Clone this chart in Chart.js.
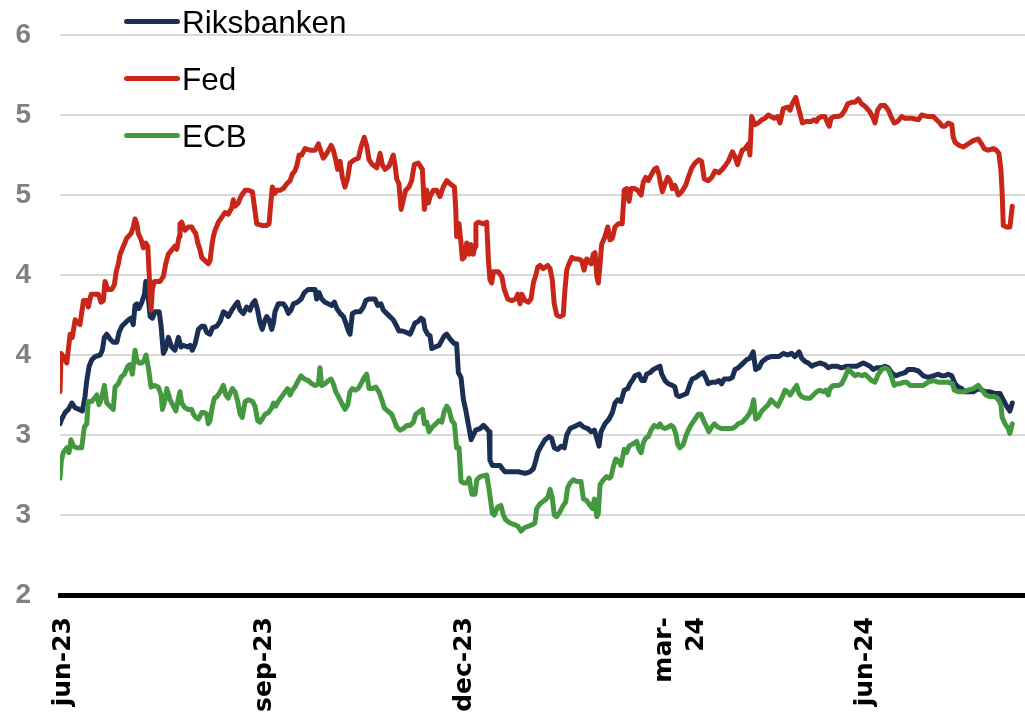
<!DOCTYPE html>
<html>
<head>
<meta charset="utf-8">
<script src="https://cdn.jsdelivr.net/npm/chart.js@4.4.1/dist/chart.umd.min.js"></script>
<style>
html,body{margin:0;padding:0;background:#fff;}
#wrap{position:relative;width:1025px;height:713px;overflow:hidden;}
#legend{position:absolute;left:0;top:0;font-family:"Liberation Sans",Arial,sans-serif;font-size:31.5px;color:#000;}
.item{position:absolute;left:124px;height:31px;width:300px;}
.swatch{position:absolute;left:0;top:12.8px;width:56px;height:5px;border-radius:3px;}
.label{position:absolute;left:58px;top:0;line-height:31px;white-space:nowrap;}
</style>
</head>
<body>
<div id="wrap">
<canvas id="c" width="1025" height="713"></canvas>
<div id="legend"></div>
</div>
<script>
// x values are days since 1 June 2023
const xTickDays = [0, 92, 183, 274, 366];
const xTickLabels = ['jun-23', 'sep-23', 'dec-23', ['mar-', '24'], 'jun-24'];
const yTickLabels = ['2', '3', '3', '4', '4', '5', '5', '6'];
const seriesNames = ['Riksbanken', 'Fed', 'ECB'];
const seriesColors = ['#1b2f55', '#c82619', '#449940'];

const riksbanken = [[-1.4,3.57],[-0.6,3.60],[0.9,3.64],[2.4,3.66],[4.0,3.70],[5.5,3.67],[7.3,3.66],[8.8,3.65],[10.0,3.74],[10.8,3.84],[11.9,3.93],[13.1,3.97],[14.6,3.99],[16.9,4.00],[17.9,4.03],[18.8,4.11],[19.9,4.13],[21.4,4.10],[22.9,4.08],[24.5,4.08],[25.5,4.14],[26.8,4.18],[28.3,4.20],[29.8,4.22],[31.0,4.23],[32.0,4.19],[32.8,4.31],[33.6,4.32],[34.6,4.29],[35.9,4.33],[37.1,4.38],[37.7,4.46],[38.6,4.39],[39.7,4.24],[40.7,4.23],[41.9,4.27],[43.8,4.27],[44.7,4.18],[45.7,4.01],[46.8,4.04],[48.0,4.11],[49.5,4.05],[51.0,4.03],[52.6,4.11],[53.8,4.05],[54.8,4.06],[56.8,4.05],[57.9,4.06],[58.9,4.03],[60.2,4.07],[61.7,4.16],[63.2,4.18],[64.4,4.18],[65.5,4.14],[67.0,4.13],[68.1,4.17],[70.1,4.18],[71.6,4.21],[73.1,4.27],[74.2,4.26],[75.3,4.24],[76.9,4.28],[78.4,4.31],[79.6,4.33],[80.7,4.28],[82.2,4.26],[83.7,4.30],[85.2,4.28],[86.3,4.32],[87.5,4.34],[88.7,4.28],[89.8,4.20],[90.8,4.16],[92.1,4.22],[92.8,4.24],[93.9,4.22],[95.1,4.16],[95.9,4.20],[96.6,4.27],[98.1,4.32],[100.4,4.32],[101.5,4.30],[102.7,4.26],[103.9,4.28],[105.0,4.32],[106.9,4.33],[108.5,4.35],[110.0,4.39],[111.8,4.41],[113.6,4.41],[114.9,4.41],[115.6,4.35],[116.7,4.39],[117.9,4.35],[119.4,4.33],[120.9,4.32],[122.5,4.31],[123.7,4.33],[124.8,4.29],[126.3,4.26],[127.8,4.24],[128.9,4.20],[129.8,4.16],[130.8,4.13],[131.9,4.26],[133.4,4.27],[135.4,4.27],[136.9,4.30],[138.0,4.34],[139.5,4.35],[142.2,4.35],[143.4,4.31],[144.9,4.32],[146.0,4.28],[147.5,4.26],[149.0,4.24],[150.5,4.22],[152.1,4.18],[153.1,4.15],[154.7,4.15],[156.7,4.14],[158.2,4.13],[159.2,4.16],[160.4,4.20],[161.9,4.21],[163.2,4.23],[164.2,4.22],[165.0,4.16],[166.2,4.13],[167.3,4.12],[168.1,4.04],[169.6,4.05],[171.4,4.06],[172.6,4.09],[173.8,4.12],[174.9,4.13],[176.4,4.10],[178.4,4.07],[179.4,4.07],[180.2,3.89],[181.4,3.86],[182.5,3.72],[183.5,3.66],[184.7,3.57],[186.0,3.47],[187.0,3.50],[188.1,3.53],[190.1,3.54],[191.6,3.56],[193.1,3.54],[194.2,3.52],[194.6,3.34],[195.7,3.31],[199.2,3.31],[200.2,3.29],[201.5,3.27],[204.5,3.27],[207.5,3.27],[210.6,3.26],[212.9,3.27],[214.4,3.29],[215.5,3.34],[216.4,3.39],[217.9,3.43],[219.7,3.47],[221.5,3.49],[222.7,3.48],[223.9,3.42],[225.5,3.41],[227.0,3.43],[228.5,3.42],[229.6,3.50],[231.1,3.54],[232.6,3.55],[234.1,3.56],[235.6,3.57],[237.2,3.55],[239.2,3.54],[240.7,3.52],[242.2,3.53],[243.3,3.48],[244.3,3.43],[245.2,3.52],[247.0,3.57],[248.9,3.60],[250.4,3.64],[251.6,3.70],[252.8,3.72],[254.3,3.71],[255.8,3.78],[257.4,3.79],[258.4,3.82],[259.5,3.84],[260.7,3.87],[262.5,3.88],[263.8,3.84],[265.0,3.84],[266.0,3.88],[267.6,3.89],[269.1,3.91],[270.6,3.92],[272.1,3.93],[272.9,3.88],[274.4,3.84],[275.9,3.82],[277.7,3.81],[278.9,3.80],[279.7,3.75],[280.8,3.74],[282.7,3.75],[284.3,3.76],[285.8,3.82],[286.8,3.85],[288.4,3.86],[290.3,3.88],[291.8,3.89],[292.9,3.86],[294.1,3.82],[295.7,3.83],[297.5,3.83],[299.0,3.84],[300.2,3.82],[301.4,3.85],[303.6,3.85],[305.1,3.86],[306.3,3.91],[307.8,3.92],[309.3,3.94],[311.6,3.97],[313.1,3.98],[314.6,4.02],[315.7,3.91],[317.2,3.92],[318.7,3.96],[320.7,3.98],[322.7,3.99],[324.5,3.99],[326.3,3.99],[328.3,4.01],[330.3,4.00],[332.1,4.01],[333.6,3.99],[335.5,4.02],[336.7,3.98],[338.2,3.96],[339.7,3.95],[341.3,3.93],[342.8,3.94],[345.0,3.95],[347.3,3.94],[348.8,3.92],[350.4,3.93],[352.6,3.93],[354.9,3.92],[357.2,3.93],[359.5,3.93],[361.8,3.93],[363.3,3.94],[364.8,3.95],[366.3,3.94],[367.8,3.93],[369.3,3.91],[370.9,3.92],[372.8,3.92],[374.6,3.93],[376.2,3.92],[377.7,3.89],[379.5,3.87],[381.5,3.88],[383.8,3.89],[385.3,3.91],[387.6,3.91],[389.9,3.90],[392.1,3.87],[394.4,3.86],[396.7,3.87],[399.0,3.88],[400.5,3.87],[402.0,3.87],[403.5,3.88],[405.1,3.87],[406.6,3.82],[408.1,3.80],[409.6,3.79],[411.1,3.77],[414.9,3.77],[417.2,3.79],[419.0,3.78],[420.6,3.77],[422.5,3.77],[424.8,3.76],[427.1,3.76],[428.6,3.72],[430.1,3.68],[431.6,3.65],[432.7,3.70]];

const fed = [[-1.4,3.77],[-0.9,4.01],[0.1,3.99],[1.7,3.95],[3.2,4.13],[4.2,4.11],[5.5,4.22],[6.7,4.20],[7.7,4.19],[9.3,4.34],[10.8,4.34],[11.5,4.30],[12.8,4.38],[14.6,4.38],[16.1,4.38],[17.3,4.33],[18.4,4.34],[19.1,4.46],[20.4,4.41],[22.2,4.41],[23.4,4.44],[24.2,4.52],[25.2,4.57],[26.0,4.63],[27.5,4.68],[29.0,4.73],[31.0,4.76],[32.0,4.80],[32.8,4.85],[33.6,4.82],[34.3,4.76],[35.6,4.72],[36.6,4.67],[37.7,4.70],[38.6,4.68],[39.3,4.49],[40.1,4.28],[40.7,4.41],[41.6,4.46],[44.2,4.46],[45.7,4.49],[46.8,4.57],[48.0,4.63],[49.8,4.66],[51.0,4.68],[51.8,4.66],[52.9,4.74],[53.3,4.82],[54.1,4.83],[54.8,4.80],[55.6,4.78],[57.1,4.80],[58.7,4.80],[59.4,4.78],[60.5,4.76],[61.4,4.70],[62.4,4.66],[63.2,4.61],[64.7,4.59],[66.2,4.57],[67.0,4.59],[67.8,4.68],[68.5,4.74],[69.3,4.78],[70.8,4.83],[72.3,4.86],[73.8,4.89],[75.3,4.88],[76.9,4.92],[77.6,4.97],[78.4,4.93],[79.9,4.95],[80.7,4.98],[81.5,5.00],[83.0,5.03],[84.5,5.03],[86.3,5.02],[87.2,4.93],[88.3,4.82],[90.6,4.81],[92.8,4.81],[93.9,4.82],[94.7,4.95],[95.4,5.05],[96.6,5.01],[97.4,5.03],[98.9,5.03],[100.4,5.04],[102.0,5.07],[103.5,5.09],[104.5,5.13],[105.7,5.15],[106.5,5.18],[107.6,5.25],[108.8,5.25],[110.3,5.29],[112.6,5.28],[114.9,5.28],[116.4,5.32],[117.1,5.29],[118.6,5.23],[120.2,5.26],[122.2,5.31],[123.2,5.28],[124.3,5.22],[125.2,5.16],[126.3,5.21],[127.3,5.11],[128.5,5.05],[129.8,5.11],[130.8,5.20],[132.8,5.22],[134.6,5.23],[135.8,5.30],[137.3,5.36],[138.4,5.31],[139.5,5.22],[141.0,5.19],[143.0,5.17],[144.5,5.26],[145.5,5.19],[146.8,5.16],[148.6,5.18],[150.5,5.25],[151.3,5.19],[152.1,5.10],[153.1,5.07],[154.1,4.91],[155.1,4.97],[156.2,5.03],[157.7,5.05],[158.9,5.09],[160.1,5.19],[161.9,5.20],[163.8,5.16],[164.7,4.91],[165.8,5.03],[166.5,4.95],[167.3,4.99],[168.8,5.03],[170.3,5.03],[171.8,4.99],[173.3,5.05],[174.9,5.09],[176.4,5.07],[178.4,5.05],[179.0,4.91],[179.4,4.74],[180.5,4.82],[181.4,4.70],[182.0,4.60],[182.9,4.61],[184.0,4.70],[185.1,4.63],[186.0,4.69],[187.0,4.63],[187.8,4.68],[188.2,4.82],[189.3,4.83],[191.6,4.82],[193.1,4.83],[193.9,4.59],[194.6,4.47],[195.4,4.45],[196.1,4.52],[198.4,4.52],[200.0,4.49],[201.1,4.41],[202.7,4.35],[204.5,4.34],[206.3,4.35],[207.3,4.38],[208.3,4.32],[209.1,4.38],[210.6,4.34],[212.1,4.33],[213.3,4.35],[214.4,4.45],[215.5,4.50],[216.4,4.55],[217.4,4.56],[218.9,4.54],[220.9,4.56],[222.0,4.54],[223.0,4.47],[223.9,4.32],[225.0,4.25],[226.5,4.24],[228.0,4.25],[228.8,4.41],[229.6,4.53],[230.3,4.56],[231.9,4.61],[233.4,4.60],[234.9,4.60],[236.4,4.59],[237.5,4.53],[238.7,4.60],[240.7,4.57],[241.7,4.63],[242.5,4.64],[243.3,4.49],[244.0,4.45],[244.8,4.57],[245.5,4.69],[247.0,4.74],[248.3,4.80],[249.3,4.72],[250.4,4.73],[251.6,4.80],[253.1,4.82],[254.9,4.82],[255.8,5.03],[256.9,5.04],[258.0,4.96],[258.9,5.04],[260.4,5.04],[261.9,5.03],[263.5,5.00],[264.5,5.08],[265.6,5.11],[266.8,5.09],[268.3,5.13],[269.5,5.16],[270.6,5.17],[271.6,5.13],[272.1,5.09],[273.2,5.02],[274.4,5.07],[275.6,5.11],[276.7,5.09],[277.7,5.04],[278.9,5.06],[280.5,5.00],[282.0,5.02],[283.8,5.06],[285.0,5.11],[286.6,5.17],[288.1,5.20],[289.9,5.22],[291.1,5.21],[292.3,5.10],[294.1,5.09],[295.7,5.11],[297.2,5.15],[299.0,5.14],[300.5,5.16],[301.7,5.18],[303.2,5.21],[305.1,5.27],[306.3,5.24],[307.5,5.19],[308.6,5.24],[309.6,5.28],[310.9,5.29],[312.4,5.32],[313.1,5.25],[313.9,5.49],[315.4,5.44],[316.9,5.45],[318.5,5.47],[320.0,5.48],[321.5,5.50],[322.7,5.49],[324.2,5.48],[325.8,5.49],[326.8,5.45],[328.3,5.54],[330.3,5.55],[331.4,5.53],[332.4,5.57],[334.0,5.61],[334.9,5.56],[335.9,5.51],[337.0,5.45],[339.0,5.46],[340.9,5.46],[342.4,5.47],[343.5,5.46],[344.3,5.48],[345.8,5.49],[347.3,5.49],[348.5,5.45],[349.3,5.43],[350.1,5.48],[351.6,5.49],[353.4,5.49],[354.9,5.50],[356.4,5.53],[357.7,5.57],[359.5,5.58],[361.0,5.58],[362.5,5.60],[364.0,5.57],[365.9,5.55],[367.8,5.52],[369.3,5.48],[370.1,5.45],[371.3,5.53],[372.8,5.56],[374.6,5.56],[376.2,5.53],[377.4,5.49],[378.9,5.45],[380.4,5.46],[382.3,5.49],[383.8,5.48],[386.8,5.48],[389.9,5.47],[391.4,5.50],[394.4,5.49],[396.7,5.49],[398.2,5.47],[399.7,5.45],[400.8,5.43],[402.0,5.43],[403.5,5.45],[405.1,5.44],[405.8,5.36],[406.6,5.33],[408.4,5.31],[410.4,5.30],[412.6,5.32],[414.9,5.34],[417.2,5.35],[418.7,5.32],[419.9,5.29],[421.7,5.28],[424.0,5.29],[425.5,5.28],[426.6,5.26],[427.5,5.16],[428.1,5.01],[428.6,4.81],[430.1,4.80],[431.6,4.80],[432.7,4.93]];

const ecb = [[-1.4,3.23],[-0.8,3.34],[0.1,3.39],[1.7,3.42],[2.7,3.39],[3.6,3.47],[4.7,3.43],[6.2,3.42],[8.5,3.42],[9.7,3.55],[10.8,3.57],[11.5,3.71],[13.1,3.71],[14.3,3.73],[15.4,3.75],[16.4,3.69],[17.6,3.73],[18.8,3.81],[19.9,3.70],[21.4,3.68],[22.9,3.66],[23.7,3.80],[25.2,3.82],[26.4,3.86],[27.9,3.88],[29.5,3.93],[30.5,3.94],[31.6,3.88],[32.8,4.03],[33.6,3.97],[34.6,3.95],[35.9,3.95],[37.1,3.97],[37.8,4.00],[38.9,3.92],[40.1,3.80],[41.6,3.81],[43.4,3.80],[44.7,3.75],[45.3,3.66],[46.5,3.72],[47.3,3.79],[48.8,3.72],[50.3,3.68],[51.4,3.65],[52.6,3.73],[53.3,3.77],[54.1,3.70],[55.6,3.67],[57.1,3.66],[58.7,3.66],[59.4,3.63],[60.5,3.61],[61.7,3.60],[63.2,3.64],[64.4,3.64],[65.5,3.63],[66.2,3.57],[67.0,3.59],[68.1,3.68],[69.0,3.73],[70.1,3.74],[71.6,3.77],[73.1,3.81],[74.2,3.75],[75.3,3.73],[76.1,3.76],[77.2,3.79],[78.4,3.77],[79.6,3.71],[80.7,3.63],[81.7,3.61],[83.0,3.71],[84.5,3.72],[86.3,3.71],[87.5,3.68],[88.7,3.59],[89.8,3.58],[90.8,3.60],[92.1,3.63],[93.6,3.64],[95.1,3.67],[95.9,3.70],[96.9,3.68],[98.1,3.71],[99.7,3.74],[101.2,3.77],[102.4,3.79],[103.5,3.75],[104.5,3.78],[105.7,3.80],[107.2,3.84],[108.5,3.87],[110.0,3.85],[111.8,3.84],[113.4,3.82],[114.9,3.81],[116.4,3.82],[117.1,3.92],[117.9,3.81],[119.4,3.82],[120.9,3.84],[122.2,3.85],[123.2,3.82],[124.3,3.77],[125.5,3.74],[127.0,3.70],[128.5,3.66],[129.8,3.69],[130.8,3.77],[131.9,3.79],[133.1,3.78],[134.6,3.79],[135.8,3.82],[137.3,3.86],[138.4,3.88],[139.5,3.79],[141.0,3.79],[142.5,3.80],[144.0,3.77],[145.3,3.72],[146.4,3.67],[148.0,3.65],[149.8,3.63],[151.0,3.59],[152.1,3.55],[153.6,3.53],[155.1,3.54],[156.7,3.56],[158.2,3.56],[159.7,3.58],[160.8,3.63],[161.9,3.64],[163.8,3.66],[164.7,3.57],[165.8,3.58],[166.8,3.52],[168.3,3.55],[169.9,3.57],[171.4,3.59],[172.6,3.58],[173.8,3.65],[174.9,3.68],[175.9,3.66],[177.2,3.59],[178.4,3.57],[179.4,3.42],[180.5,3.42],[181.4,3.21],[182.5,3.20],[184.0,3.20],[185.1,3.23],[186.3,3.13],[187.8,3.13],[188.6,3.22],[190.1,3.24],[193.1,3.25],[194.2,3.16],[195.7,3.01],[196.6,3.00],[198.1,3.05],[199.6,3.06],[200.7,3.00],[201.8,2.97],[203.7,2.95],[205.7,2.94],[207.3,2.93],[208.8,2.90],[210.3,2.92],[212.1,2.93],[213.9,2.94],[215.1,2.95],[215.9,3.04],[217.4,3.07],[219.4,3.09],[220.9,3.11],[222.0,3.16],[223.0,3.11],[223.9,3.00],[225.0,2.99],[226.5,3.02],[228.0,3.06],[229.1,3.08],[230.0,3.17],[231.1,3.20],[232.6,3.22],[234.1,3.21],[236.1,3.21],[237.2,3.10],[238.7,3.09],[240.2,3.06],[241.3,3.04],[242.2,3.10],[243.3,2.99],[244.0,3.01],[244.8,3.19],[246.3,3.22],[247.8,3.24],[248.9,3.23],[249.8,3.24],[250.8,3.30],[251.9,3.35],[253.1,3.34],[254.3,3.31],[255.8,3.41],[256.9,3.39],[258.0,3.43],[259.2,3.44],[260.4,3.45],[261.5,3.46],[262.5,3.41],[263.5,3.39],[264.5,3.45],[265.6,3.48],[266.8,3.49],[268.0,3.53],[269.5,3.56],[271.1,3.55],[272.1,3.57],[272.9,3.55],[274.4,3.54],[275.9,3.55],[277.1,3.56],[278.2,3.55],[279.3,3.51],[280.2,3.44],[281.2,3.42],[282.7,3.44],[283.8,3.49],[285.0,3.53],[286.6,3.57],[288.1,3.60],[289.6,3.63],[290.8,3.63],[292.3,3.58],[293.4,3.55],[294.4,3.52],[295.7,3.55],[296.9,3.57],[298.4,3.55],[300.2,3.54],[304.8,3.54],[306.3,3.55],[307.8,3.57],[309.6,3.58],[311.6,3.61],[313.1,3.64],[314.2,3.68],[314.8,3.72],[315.7,3.60],[316.9,3.61],[318.5,3.65],[320.0,3.67],[321.5,3.69],[322.7,3.72],[324.2,3.70],[325.8,3.68],[327.6,3.73],[329.1,3.78],[330.3,3.77],[331.4,3.75],[332.9,3.78],[334.4,3.81],[335.5,3.76],[336.7,3.74],[338.5,3.73],[340.5,3.73],[342.0,3.75],[343.5,3.77],[345.0,3.78],[346.6,3.77],[347.6,3.78],[348.8,3.75],[349.6,3.79],[351.1,3.81],[353.4,3.81],[354.9,3.82],[356.4,3.86],[357.9,3.91],[359.5,3.89],[361.0,3.87],[362.5,3.88],[364.3,3.87],[365.5,3.88],[367.1,3.86],[368.6,3.84],[370.1,3.83],[371.6,3.88],[373.2,3.91],[374.6,3.92],[376.2,3.91],[377.7,3.86],[378.9,3.81],[380.0,3.82],[381.5,3.82],[383.0,3.83],[384.6,3.83],[386.1,3.81],[388.4,3.81],[390.6,3.81],[392.1,3.81],[394.4,3.83],[396.7,3.84],[399.0,3.83],[401.2,3.83],[403.5,3.83],[405.4,3.82],[406.3,3.78],[408.1,3.77],[410.4,3.77],[412.6,3.78],[414.9,3.79],[417.2,3.81],[419.0,3.78],[420.6,3.75],[422.5,3.74],[424.8,3.74],[426.4,3.72],[427.5,3.69],[428.1,3.61],[429.4,3.57],[430.9,3.54],[431.6,3.51],[432.7,3.57]];

const seriesData = [riksbanken, fed, ecb];
const toPoints = arr => arr.map(p => ({x: p[0], y: p[1]}));

const datasets = seriesNames.map((name, i) => ({
  label: name,
  data: toPoints(seriesData[i]),
  borderColor: seriesColors[i],
  backgroundColor: seriesColors[i],
  borderWidth: 5,
  pointRadius: 0,
  tension: 0,
  fill: false,
  borderJoinStyle: 'round',
  borderCapStyle: 'round',
  order: seriesNames.length - i
}));

Chart.defaults.font.family = '"Liberation Sans", Arial, sans-serif';

new Chart(document.getElementById('c'), {
  type: 'line',
  data: { datasets },
  options: {
    responsive: false,
    animation: false,
    events: [],
    layout: { padding: { top: 35, left: 0, right: 0, bottom: 0 } },
    plugins: { legend: { display: false }, tooltip: { enabled: false } },
    scales: {
      x: {
        type: 'linear',
        min: -1.4,
        max: 438.5,
        afterBuildTicks: s => { s.ticks = xTickDays.map(v => ({ value: v })); },
        afterFit: s => { s.height = 118; },
        grid: { display: false, drawTicks: false },
        border: { display: true, color: '#000000', width: 5 },
        ticks: {
          autoSkip: false,
          minRotation: 90,
          maxRotation: 90,
          padding: 22,
          color: '#000000',
          font: { family: '"DejaVu Sans", sans-serif', weight: 'bold', size: 25, lineHeight: 1.3 },
          callback: (v, i) => xTickLabels[i]
        }
      },
      y: {
        min: 2.5,
        max: 6,
        afterFit: s => { s.width = 60; },
        grid: { color: '#d9d9d9', lineWidth: 2, drawTicks: true, tickLength: 29, tickColor: 'rgba(0,0,0,0)' },
        border: { display: false },
        ticks: {
          stepSize: 0.5,
          padding: 0,
          color: '#808080',
          font: { weight: 'bold', size: 28 },
          callback: (v, i) => yTickLabels[i]
        }
      }
    }
  }
});

// legend built from the same series names and colours
const legend = document.getElementById('legend');
seriesNames.forEach((name, i) => {
  const item = document.createElement('div');
  item.className = 'item';
  item.style.top = (6.7 + 57 * i) + 'px';
  const sw = document.createElement('div');
  sw.className = 'swatch';
  sw.style.background = seriesColors[i];
  const lb = document.createElement('div');
  lb.className = 'label';
  lb.textContent = name;
  item.appendChild(sw);
  item.appendChild(lb);
  legend.appendChild(item);
});
</script>
</body>
</html>
